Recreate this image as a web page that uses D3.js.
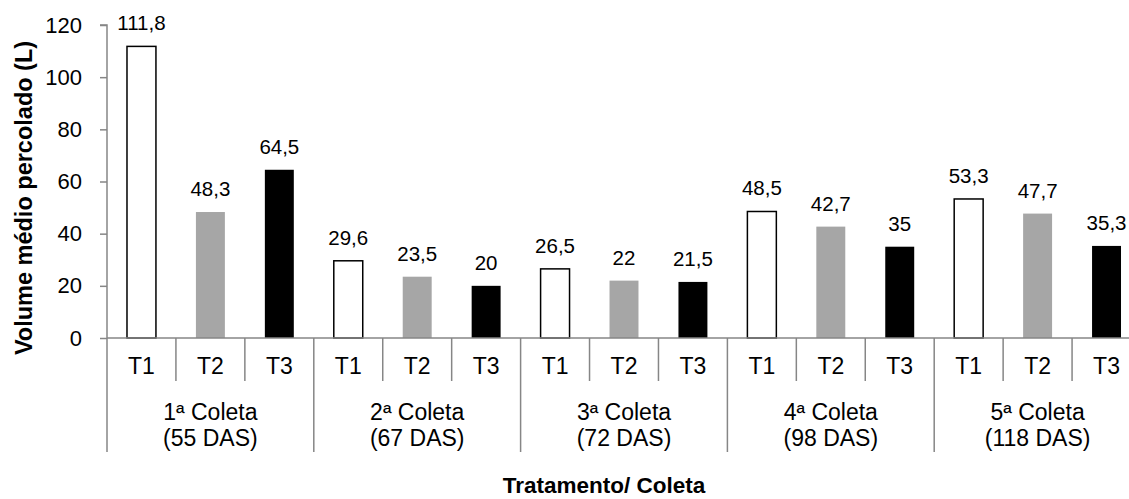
<!DOCTYPE html>
<html>
<head>
<meta charset="utf-8">
<script src="https://cdn.jsdelivr.net/npm/d3@7"></script>
<style>
  body { margin: 0; background: #fff; }
  text { font-family: "Liberation Sans", Arial, sans-serif; fill: #000; }
</style>
</head>
<body>
<div id="chart"></div>
<script>
// chart data
const groups = ["1ª Coleta|(55 DAS)", "2ª Coleta|(67 DAS)", "3ª Coleta|(72 DAS)", "4ª Coleta|(98 DAS)", "5ª Coleta|(118 DAS)"];
const treatments = ["T1", "T2", "T3"];
const values = [
  [111.8, 48.3, 64.5],
  [29.6, 23.5, 20],
  [26.5, 22, 21.5],
  [48.5, 42.7, 35],
  [53.3, 47.7, 35.3]
];
const yTicks = [0, 20, 40, 60, 80, 100, 120];
const fills = { T1: "#ffffff", T2: "#a6a6a6", T3: "#000000" };

const width = 1129, height = 499;
const axisColor = "#868686";

const svg = d3.select("#chart").append("svg")
  .attr("width", width)
  .attr("height", height);

// one row per bar
const rows = [];
groups.forEach((g, gi) => {
  treatments.forEach((t, ti) => {
    rows.push({ key: gi + "-" + t, group: gi, t: t, ti: ti, v: values[gi][ti] });
  });
});

const x = d3.scaleBand().domain(rows.map(d => d.key)).range([107, 1141]).padding(0);
const y = d3.scaleLinear().domain([0, 120]).range([338, 25]);
const barW = x.bandwidth() * 0.42;

// y axis
const yAxis = svg.append("g")
  .attr("transform", "translate(107,0)")
  .call(d3.axisLeft(y).tickValues(yTicks).tickSize(7).tickPadding(18).tickFormat(d3.format("d")));
yAxis.select(".domain").attr("stroke", axisColor).attr("stroke-width", 1.5)
  .attr("d", "M-7," + y(120) + "H0V" + y(0));
yAxis.selectAll(".tick line").attr("stroke", axisColor).attr("stroke-width", 1.5);
yAxis.selectAll(".tick text").style("font-size", "22px").attr("fill", "#000");

// bars
svg.append("g").selectAll("rect")
  .data(rows)
  .join("rect")
  .attr("x", d => x(d.key) + (x.bandwidth() - barW) / 2)
  .attr("y", d => y(d.v))
  .attr("width", barW)
  .attr("height", d => y(0) - y(d.v))
  .attr("fill", d => fills[d.t])
  .attr("stroke", d => d.t === "T1" ? "#000" : "none")
  .attr("stroke-width", 1.5);

// value labels
svg.append("g").selectAll("text")
  .data(rows)
  .join("text")
  .attr("x", d => x(d.key) + x.bandwidth() / 2)
  .attr("y", d => y(d.v) - 16)
  .attr("text-anchor", "middle")
  .style("font-size", "20.5px")
  .text(d => String(d.v).replace(".", ","));

// category axis
const xAxis = svg.append("g");
xAxis.append("line")
  .attr("x1", 107).attr("x2", 1141)
  .attr("y1", y(0)).attr("y2", y(0))
  .attr("stroke", axisColor).attr("stroke-width", 1.5);

const bounds = rows.map(d => x(d.key)).concat([x.range()[1]]);
xAxis.selectAll(".div")
  .data(bounds)
  .join("line")
  .attr("x1", d => d).attr("x2", d => d)
  .attr("y1", y(0))
  .attr("y2", (d, i) => i % 3 === 0 ? 452 : 381)
  .attr("stroke", axisColor).attr("stroke-width", 1.5);

xAxis.selectAll(".tl")
  .data(rows)
  .join("text")
  .attr("x", d => x(d.key) + x.bandwidth() / 2)
  .attr("y", 374)
  .attr("text-anchor", "middle")
  .style("font-size", "23px")
  .text(d => d.t);

const gl = xAxis.selectAll(".gl")
  .data(groups)
  .join("text")
  .attr("text-anchor", "middle")
  .style("font-size", "23px");
gl.append("tspan")
  .attr("x", (d, i) => x(i + "-T2") + x.bandwidth() / 2)
  .attr("y", 420)
  .text(d => d.split("|")[0]);
gl.append("tspan")
  .attr("x", (d, i) => x(i + "-T2") + x.bandwidth() / 2)
  .attr("y", 446)
  .text(d => d.split("|")[1]);

// titles
svg.append("text")
  .attr("x", 604).attr("y", 493)
  .attr("text-anchor", "middle")
  .style("font-size", "22.5px").style("font-weight", "bold")
  .text("Tratamento/ Coleta");

svg.append("text")
  .attr("transform", "translate(32,198) rotate(-90)")
  .attr("text-anchor", "middle")
  .style("font-size", "23.5px").style("font-weight", "bold")
  .text("Volume médio percolado (L)");
</script>
</body>
</html>
